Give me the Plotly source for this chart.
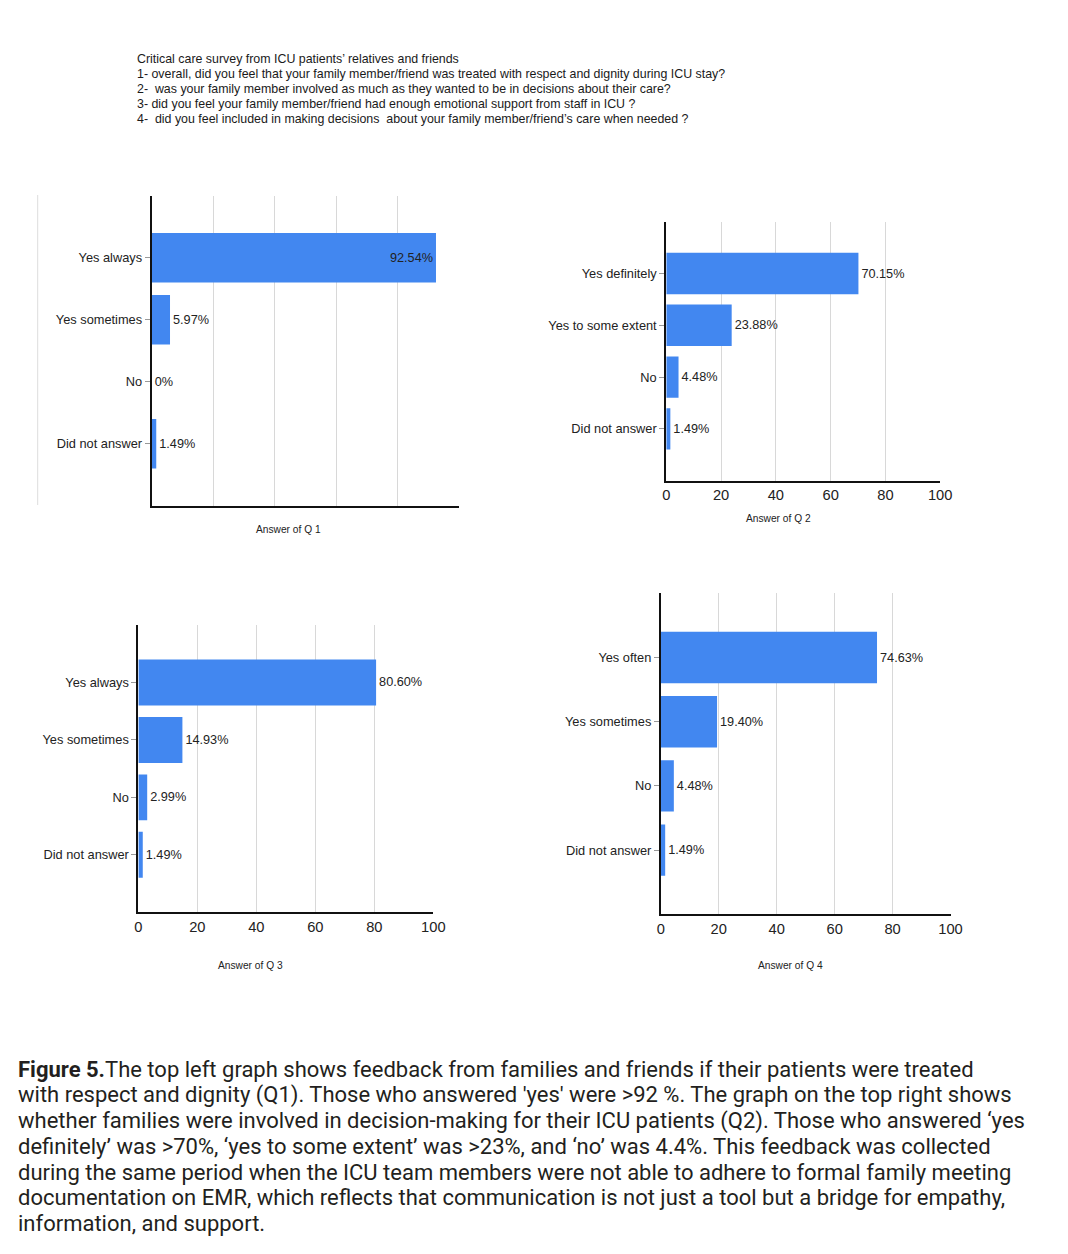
import plotly.graph_objects as go

# figure sized to fit inside the page; pixel targets are mapped through the
# observed page placement of the figure
OFF = 8
W, H = 1068 - 2 * OFF, 1254 - 2 * OFF
XOFF, XSCALE = 11.3, 0.985

def px(x):
    return ((x - XOFF) / XSCALE) / W

def py(y):
    return 1 - (y - OFF) / H

# ---------------- data ----------------
q1_categories = ["Yes always", "Yes sometimes", "No", "Did not answer"]
q1_values = [92.54, 5.97, 0, 1.49]

q2_categories = ["Yes definitely", "Yes to some extent", "No", "Did not answer"]
q2_values = [70.15, 23.88, 4.48, 1.49]

q3_categories = ["Yes always", "Yes sometimes", "No", "Did not answer"]
q3_values = [80.60, 14.93, 2.99, 1.49]

q4_categories = ["Yes often", "Yes sometimes", "No", "Did not answer"]
q4_values = [74.63, 19.40, 4.48, 1.49]

x_ticks = [0, 20, 40, 60, 80, 100]
axis_titles = ["Answer of Q 1", "Answer of Q 2", "Answer of Q 3", "Answer of Q 4"]

header_lines = [
    "Critical care survey from ICU patients’ relatives and friends",
    "1- overall, did you feel that your family member/friend was treated with respect and dignity during ICU stay?",
    "2-  was your family member involved as much as they wanted to be in decisions about their care?",
    "3- did you feel your family member/friend had enough emotional support from staff in ICU ?",
    "4-  did you feel included in making decisions  about your family member/friend’s care when needed ?",
]

caption_lines = [
    "<b>Figure 5.</b>The top left graph shows feedback from families and friends if their patients were treated",
    "with respect and dignity (Q1). Those who answered 'yes' were >92 %. The graph on the top right shows",
    "whether families were involved in decision-making for their ICU patients (Q2). Those who answered ‘yes",
    "definitely’ was >70%, ‘yes to some extent’ was >23%, and ‘no’ was 4.4%. This feedback was collected",
    "during the same period when the ICU team members were not able to adhere to formal family meeting",
    "documentation on EMR, which reflects that communication is not just a tool but a bridge for empathy,",
    "information, and support.",
]

# ---------------- layout geometry (target pixels) ----------------
panels = [
    dict(x0=151, x1=458.3, yt=195.7, yb=505.7, ticks=False, tx=288, ty=529, inside=True),
    dict(x0=665.7, x1=939.7, yt=221.7, yb=480.7, ticks=True, tx=778, ty=518, inside=False),
    dict(x0=137.7, x1=432.7, yt=625, yb=912.3, ticks=True, tx=250, ty=965, inside=False),
    dict(x0=660.3, x1=950, yt=593.3, yb=914.3, ticks=True, tx=790, ty=965, inside=False),
]
data_sets = [(q1_categories, q1_values), (q2_categories, q2_values),
             (q3_categories, q3_values), (q4_categories, q4_values)]

BAR = "#4287f0"
TXT = "#222222"
LABEL_FONT = "Liberation Sans, Arial, sans-serif"

fig = go.Figure()
annotations = []
shapes = []

def fmt(v):
    return "0%" if v == 0 else f"{v:.2f}%"

for i, (p, (cats, vals)) in enumerate(zip(panels, data_sets)):
    n = i + 1
    xa = "x" if n == 1 else f"x{n}"
    ya = "y" if n == 1 else f"y{n}"
    positions = ["inside" if (j == 0 and p["inside"]) else "outside" for j in range(len(vals))]
    fig.add_trace(go.Bar(
        x=vals, y=cats, orientation="h", xaxis=xa, yaxis=ya,
        marker=dict(color=BAR, line=dict(width=0)),
        text=[fmt(v) for v in vals], textposition=positions,
        insidetextanchor="end", constraintext="none", cliponaxis=False,
        textfont=dict(family=LABEL_FONT, size=12.7, color=TXT),
        insidetextfont=dict(family=LABEL_FONT, size=12.7, color=TXT),
        outsidetextfont=dict(family=LABEL_FONT, size=12.7, color=TXT),
        showlegend=False, hoverinfo="skip",
    ))
    xkey = "xaxis" if n == 1 else f"xaxis{n}"
    ykey = "yaxis" if n == 1 else f"yaxis{n}"
    fig.layout[xkey] = dict(
        domain=[px(p["x0"]), px(p["x1"])], anchor=ya,
        range=[0, 100], tickvals=x_ticks, showticklabels=p["ticks"],
        tickfont=dict(family=LABEL_FONT, size=14.7, color=TXT),
        showgrid=True, gridcolor="#d8d8d8", gridwidth=1.3,
        zeroline=False, showline=True, linecolor="#111111", linewidth=2,
        ticks="", fixedrange=True,
    )
    fig.layout[ykey] = dict(
        domain=[py(p["yb"]), py(p["yt"])], anchor=xa,
        type="category", categoryorder="array", categoryarray=cats,
        range=[4, -1], showgrid=False, zeroline=False,
        showline=True, linecolor="#111111", linewidth=2,
        ticks="outside", ticklen=5, tickcolor="#999999", tickwidth=1,
        tickfont=dict(family=LABEL_FONT, size=12.8, color=TXT),
        fixedrange=True,
    )
    annotations.append(dict(
        text=axis_titles[i], x=px(p["tx"]), y=py(p["ty"]),
        xref="paper", yref="paper", showarrow=False,
        xanchor="center", yanchor="middle",
        font=dict(family=LABEL_FONT, size=10.2, color=TXT),
    ))

fig.update_layout(bargap=0.2)

# header text
header_y = [59, 74, 89, 104, 119]
for t, yy in zip(header_lines, header_y):
    annotations.append(dict(
        text=t, x=px(134), y=py(yy), xref="paper", yref="paper",
        showarrow=False, xanchor="left", yanchor="middle",
        font=dict(family=LABEL_FONT, size=12.4, color="#1a1a1a"),
    ))

# caption text
cap_y = [1069, 1095, 1120.5, 1146, 1172, 1197.5, 1223]
for t, yy in zip(caption_lines, cap_y):
    annotations.append(dict(
        text=t, x=px(15.5), y=py(yy), xref="paper", yref="paper",
        showarrow=False, xanchor="left", yanchor="middle",
        font=dict(family="Roboto, Noto Sans, sans-serif", size=22, color="#231f20"),
    ))

# faint frame line at left of first chart
shapes.append(dict(type="line", xref="paper", yref="paper",
                   x0=px(37), x1=px(37), y0=py(505), y1=py(195),
                   line=dict(color="#dddddd", width=1)))

fig.update_layout(
    width=W, height=H, margin=dict(l=0, r=0, t=0, b=0),
    paper_bgcolor="white", plot_bgcolor="white",
    annotations=annotations, shapes=shapes,
)

fig.write_html("out.html", config={"displayModeBar": False})
